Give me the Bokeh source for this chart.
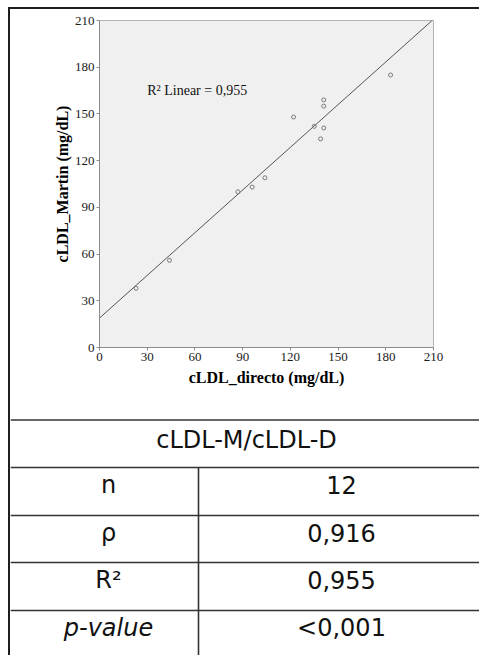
from bokeh.plotting import figure
from bokeh.models import Range1d, FixedTicker, ColumnDataSource
from bokeh.core.properties import value
from bokeh.embed import file_html
from bokeh.resources import INLINE

# ---- data ----
x_directo = [23, 44, 87, 96, 104, 122, 135, 139, 141, 141, 141, 183]
y_martin = [38, 56, 100, 103, 109, 148, 142, 134, 141, 155, 159, 175]
fit_x = [0, 210]
fit_y = [18.9, 210.8]
axis_ticks = [0, 30, 60, 90, 120, 150, 180, 210]
r2_label = "R² Linear = 0,955"
table_header = "cLDL-M/cLDL-D"
row_labels = ["n", "ρ", "R²", "p-value"]
row_values = ["12", "0,916", "0,955", "<0,001"]

SERIF = "Liberation Serif"
SANS = "DejaVu Sans"
BORDER = "#1e1e1e"

# ---- chart ----
p = figure(width=471, height=411, toolbar_location=None, output_backend="svg",
           x_range=Range1d(0, 210), y_range=Range1d(0, 210),
           min_border_left=89, min_border_right=48,
           min_border_top=11, min_border_bottom=73,
           background_fill_color="#f0f0f0", border_fill_color="white",
           outline_line_color="#b4b4b4", outline_line_width=1)
p.grid.visible = False
p.styles = {"margin-left": "8px", "margin-top": "7px",
            "border-left": f"2px solid {BORDER}", "border-top": f"2px solid {BORDER}"}

for ax in (p.xaxis[0], p.yaxis[0]):
    ax.ticker = FixedTicker(ticks=axis_ticks)
    ax.axis_line_color = "#8c8c8c"
    ax.axis_line_width = 1
    ax.major_tick_line_color = "#8c8c8c"
    ax.major_tick_out = 3
    ax.major_tick_in = 0
    ax.minor_tick_line_color = None
    ax.major_label_text_font = SERIF
    ax.major_label_text_font_size = "13px"
    ax.major_label_text_color = "#1a1a1a"
    ax.major_label_standoff = 2
    ax.axis_label_text_font = SERIF
    ax.axis_label_text_font_size = "16px"
    ax.axis_label_text_font_style = "bold"
    ax.axis_label_text_color = "black"

p.xaxis.axis_label_standoff = 5
p.yaxis.axis_label_standoff = 1
p.xaxis.axis_label = "cLDL_directo (mg/dL)"
p.yaxis.axis_label = "cLDL_Martin (mg/dL)"

p.line(fit_x, fit_y, line_color="#555555", line_width=1)
p.scatter(x_directo, y_martin, marker="circle", size=4, fill_color=None,
          line_color="#7a7a7a", line_width=1)
p.text(x=[30], y=[165], text=[r2_label], text_font=value(SERIF),
       text_font_size="14px", text_color="#111111",
       text_align="left", text_baseline="alphabetic")

# ---- table (page-pixel coordinates) ----
t = figure(width=471, height=237, toolbar_location=None, output_backend="svg",
           x_range=Range1d(10, 481), y_range=Range1d(657, 420),
           x_axis_type=None, y_axis_type=None, min_border=0,
           background_fill_color="white", border_fill_color="white",
           outline_line_color=None)
t.grid.visible = False
t.styles = {"margin-left": "8px", "border-left": f"2px solid {BORDER}"}

h_lines = [421.5, 469, 517, 564, 612]
t.multi_line(xs=[[10, 481] for _ in h_lines], ys=[[y, y] for y in h_lines],
             line_color="#333333", line_width=1.6)
t.line([198, 198], [469, 657], line_color="#333333", line_width=1.6)

t.text(x=[246], y=[441], text=[table_header], text_font=value(SANS),
       text_font_size="24px", text_color="#111111",
       text_align="center", text_baseline="middle")

row_tops = h_lines[1:]
ys = [rt + 17 for rt in row_tops]
styles = ["italic" if lab == "p-value" else "normal" for lab in row_labels]
src = ColumnDataSource(dict(x=[108] * len(row_labels), y=ys, text=row_labels, style=styles))
t.text(x="x", y="y", text="text", source=src, text_font=value(SANS),
       text_font_size="24px", text_font_style="style", text_color="#111111",
       text_align="center", text_baseline="middle")
t.text(x=[341] * len(row_values), y=ys, text=row_values, text_font=value(SANS),
       text_font_size="24px", text_color="#111111",
       text_align="center", text_baseline="middle")

open("out.html", "w").write(file_html([p, t], INLINE))
